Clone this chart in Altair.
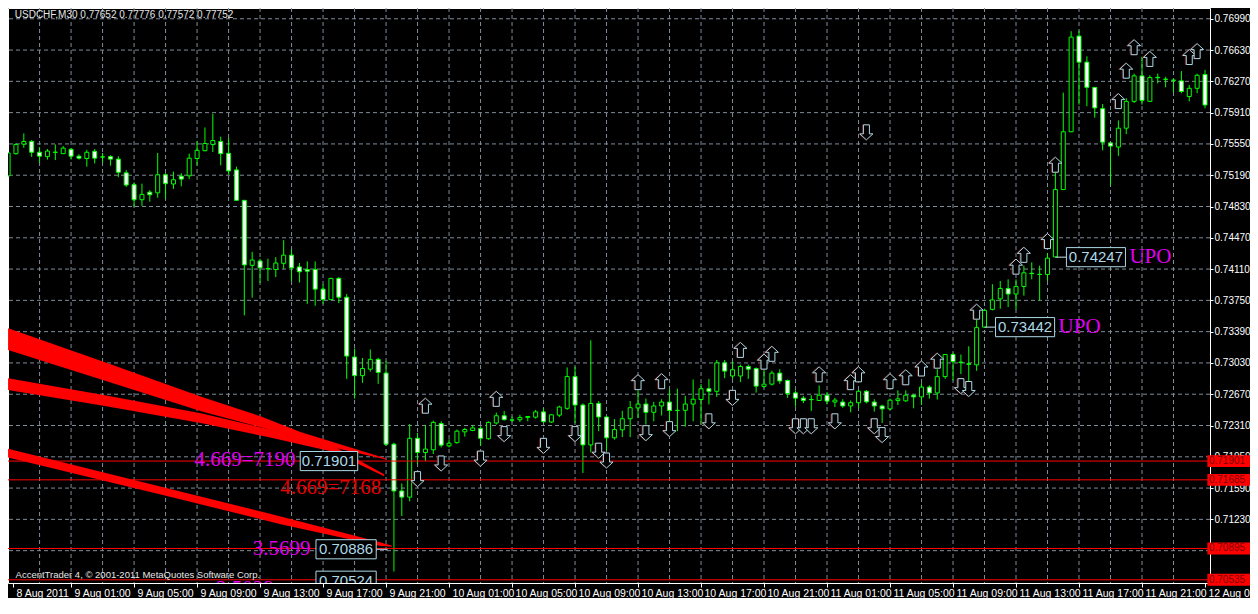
import altair as alt
import pandas as pd

# ---------------- candle data (USDCHF M30, bar 0 = 8 Aug 21:00) ----------------
opens = [0.75183, 0.75438, 0.75547, 0.75578, 0.75454, 0.75404, 0.75455, 0.75438, 0.75488, 0.75409,
         0.75382, 0.75465, 0.75401, 0.75404, 0.75375, 0.75217, 0.75082, 0.74908, 0.74995, 0.74987,
         0.75195, 0.75089, 0.75179, 0.75183, 0.75382, 0.75472, 0.75544, 0.75578, 0.75442, 0.75251,
         0.74901, 0.74153, 0.74203, 0.74115, 0.74105, 0.74176, 0.74270, 0.74135, 0.74105, 0.74105,
         0.73879, 0.73759, 0.74003, 0.73786, 0.73098, 0.72884, 0.72958, 0.73071, 0.72913, 0.72095,
         0.71557, 0.71486, 0.72163, 0.72000, 0.72031, 0.72332, 0.72076, 0.72113, 0.72237, 0.72253,
         0.72275, 0.72158, 0.72339, 0.72422, 0.72374, 0.72377, 0.72403, 0.72406, 0.72467, 0.72350,
         0.72429, 0.72508, 0.72873, 0.72546, 0.72087, 0.72564, 0.72408, 0.72169, 0.72260, 0.72388,
         0.72512, 0.72557, 0.72462, 0.72535, 0.72580, 0.72482, 0.72485, 0.72557, 0.72609, 0.72733,
         0.72704, 0.73031, 0.72880, 0.72880, 0.72989, 0.72966, 0.72760, 0.72786, 0.72913, 0.72828,
         0.72685, 0.72625, 0.72610, 0.72598, 0.72659, 0.72580, 0.72580, 0.72535, 0.72572, 0.72704,
         0.72580, 0.72535, 0.72501, 0.72598, 0.72594, 0.72659, 0.72639, 0.72752, 0.72685, 0.72873,
         0.73127, 0.73040, 0.73020, 0.73008, 0.73442, 0.73646, 0.73767, 0.73887, 0.73823, 0.73910,
         0.74062, 0.74050, 0.74048, 0.74250, 0.75025, 0.75690, 0.76791, 0.76491, 0.76201, 0.75956,
         0.75562, 0.75514, 0.75731, 0.76040, 0.76333, 0.76040, 0.76316, 0.76295, 0.76284, 0.76275,
         0.76096, 0.76190, 0.76348]
highs = [0.75450, 0.75559, 0.75671, 0.75596, 0.75514, 0.75491, 0.75544, 0.75525, 0.75502, 0.75431,
         0.75483, 0.75491, 0.75446, 0.75420, 0.75409, 0.75251, 0.75108, 0.75093, 0.75018, 0.75446,
         0.75213, 0.75232, 0.75213, 0.75438, 0.75581, 0.75739, 0.75897, 0.75634, 0.75618, 0.75288,
         0.74905, 0.74308, 0.74229, 0.74229, 0.74248, 0.74443, 0.74338, 0.74180, 0.74198, 0.74198,
         0.73936, 0.74010, 0.74018, 0.73823, 0.73195, 0.73087, 0.73184, 0.73090, 0.73053, 0.72113,
         0.71644, 0.72327, 0.72226, 0.72313, 0.72366, 0.72358, 0.72151, 0.72264, 0.72282, 0.72313,
         0.72301, 0.72358, 0.72459, 0.72478, 0.72414, 0.72433, 0.72418, 0.72490, 0.72508, 0.72440,
         0.72538, 0.72978, 0.72985, 0.72564, 0.73290, 0.72591, 0.72422, 0.72384, 0.72478, 0.72591,
         0.72715, 0.72620, 0.72583, 0.72613, 0.72733, 0.72733, 0.72651, 0.72839, 0.72789, 0.72846,
         0.73064, 0.73064, 0.73045, 0.73011, 0.73011, 0.72978, 0.72958, 0.72940, 0.72958, 0.72839,
         0.72715, 0.72651, 0.72659, 0.72771, 0.72696, 0.72628, 0.72613, 0.72598, 0.72722, 0.72718,
         0.72613, 0.72549, 0.72620, 0.72715, 0.72715, 0.72670, 0.72797, 0.72771, 0.72958, 0.73130,
         0.73147, 0.73127, 0.73222, 0.73541, 0.73654, 0.73936, 0.73973, 0.73992, 0.73992, 0.74150,
         0.74187, 0.74150, 0.74293, 0.75251, 0.76141, 0.76847, 0.76855, 0.76558, 0.76205, 0.76009,
         0.75570, 0.75821, 0.76077, 0.76359, 0.76554, 0.76340, 0.76359, 0.76322, 0.76302, 0.76389,
         0.76227, 0.76359, 0.76400]
lows = [0.75175, 0.75427, 0.75506, 0.75401, 0.75333, 0.75370, 0.75364, 0.75435, 0.75370, 0.75370,
        0.75288, 0.75325, 0.75333, 0.75299, 0.75168, 0.75055, 0.74826, 0.74837, 0.74886, 0.74931,
        0.74920, 0.75032, 0.75063, 0.75145, 0.75303, 0.75465, 0.75457, 0.75303, 0.75195, 0.74895,
        0.73578, 0.73781, 0.73950, 0.73973, 0.74018, 0.74113, 0.73973, 0.73955, 0.73710, 0.73688,
        0.73710, 0.73755, 0.73718, 0.72846, 0.72620, 0.72801, 0.72929, 0.72789, 0.72076, 0.70630,
        0.71268, 0.71437, 0.71870, 0.71899, 0.71982, 0.72057, 0.72057, 0.72102, 0.72181, 0.72245,
        0.72076, 0.72147, 0.72320, 0.72369, 0.72350, 0.72350, 0.72358, 0.72388, 0.72346, 0.72339,
        0.72406, 0.72490, 0.72339, 0.71764, 0.72000, 0.72245, 0.72020, 0.72147, 0.72177, 0.72177,
        0.72395, 0.72320, 0.72358, 0.72425, 0.72245, 0.72245, 0.72298, 0.72358, 0.72320, 0.72553,
        0.72639, 0.72854, 0.72846, 0.72809, 0.72846, 0.72688, 0.72744, 0.72771, 0.72789, 0.72628,
        0.72527, 0.72568, 0.72478, 0.72595, 0.72553, 0.72523, 0.72515, 0.72462, 0.72508, 0.72564,
        0.72470, 0.72339, 0.72490, 0.72546, 0.72583, 0.72508, 0.72546, 0.72620, 0.72609, 0.72846,
        0.72828, 0.72902, 0.72659, 0.72940, 0.73442, 0.73635, 0.73654, 0.73673, 0.73643, 0.73804,
        0.73992, 0.73747, 0.73973, 0.74247, 0.75020, 0.75685, 0.76002, 0.75984, 0.75852, 0.75476,
        0.75071, 0.75412, 0.75663, 0.76021, 0.76002, 0.76035, 0.76246, 0.76201, 0.76141, 0.76133,
        0.76040, 0.76133, 0.75960]
closes = [0.75446, 0.75544, 0.75578, 0.75454, 0.75409, 0.75468, 0.75453, 0.75502, 0.75409, 0.75386,
          0.75454, 0.75386, 0.75399, 0.75375, 0.75224, 0.75077, 0.74908, 0.74969, 0.74965, 0.75195,
          0.75093, 0.75138, 0.75145, 0.75386, 0.75476, 0.75555, 0.75589, 0.75438, 0.75240, 0.74901,
          0.74158, 0.74214, 0.74124, 0.74112, 0.74180, 0.74270, 0.74124, 0.74079, 0.74085, 0.73879,
          0.73759, 0.74003, 0.73786, 0.73109, 0.72884, 0.72966, 0.73071, 0.72921, 0.72095, 0.71557,
          0.71486, 0.72163, 0.72000, 0.72039, 0.72346, 0.72084, 0.72106, 0.72245, 0.72264, 0.72282,
          0.72163, 0.72346, 0.72422, 0.72377, 0.72372, 0.72403, 0.72414, 0.72467, 0.72354, 0.72433,
          0.72523, 0.72873, 0.72546, 0.72087, 0.72564, 0.72408, 0.72169, 0.72264, 0.72388, 0.72515,
          0.72557, 0.72462, 0.72535, 0.72580, 0.72482, 0.72485, 0.72557, 0.72613, 0.72733, 0.72704,
          0.73031, 0.72936, 0.72952, 0.72989, 0.72958, 0.72763, 0.72786, 0.72913, 0.72823, 0.72677,
          0.72625, 0.72598, 0.72608, 0.72659, 0.72591, 0.72602, 0.72535, 0.72572, 0.72704, 0.72583,
          0.72535, 0.72501, 0.72602, 0.72617, 0.72659, 0.72639, 0.72752, 0.72685, 0.72873, 0.73127,
          0.73045, 0.73034, 0.73015, 0.73436, 0.73635, 0.73755, 0.73887, 0.73823, 0.73910, 0.74067,
          0.74058, 0.74048, 0.74236, 0.75025, 0.75690, 0.76779, 0.76491, 0.76201, 0.75964, 0.75570,
          0.75525, 0.75731, 0.76040, 0.76333, 0.76051, 0.76314, 0.76312, 0.76293, 0.76282, 0.76153,
          0.76190, 0.76340, 0.75998]

# ---------------- axes ----------------
x_labels = ["8 Aug 2011", "9 Aug 01:00", "9 Aug 05:00", "9 Aug 09:00", "9 Aug 13:00",
            "9 Aug 17:00", "9 Aug 21:00", "10 Aug 01:00", "10 Aug 05:00", "10 Aug 09:00",
            "10 Aug 13:00", "10 Aug 17:00", "10 Aug 21:00", "11 Aug 01:00", "11 Aug 05:00",
            "11 Aug 09:00", "11 Aug 13:00", "11 Aug 17:00", "11 Aug 21:00", "12 Aug 01:00"]
x_label_bars = [0.625, 8, 16, 24, 32, 40, 48, 56, 64, 72, 80, 88, 96, 104, 112, 120, 128, 136, 144, 152]
y_levels = [0.70870, 0.71230, 0.71590, 0.71950, 0.72310, 0.72670, 0.73030, 0.73390, 0.73750,
            0.74110, 0.74470, 0.74830, 0.75190, 0.75550, 0.75910, 0.76270, 0.76630, 0.76990]
grid_bars = [4, 8, 12, 16, 20, 24, 28, 32, 36, 40, 44, 48, 52, 56, 60, 64, 68, 72, 76, 80,
             84, 88, 92, 96, 100, 104, 108, 112, 116, 120, 124, 128, 132, 136, 140, 144, 148]

# ---------------- arrows ----------------
up_bars = [53, 62, 80, 83, 93, 96, 97, 103, 107, 108, 112, 114, 116, 118, 123, 128, 129, 132,
           133, 141, 142, 143, 145, 150, 151]
up_prices = [0.72538, 0.72617, 0.72809, 0.72820, 0.73180, 0.73045, 0.73135, 0.72899, 0.72809,
             0.72899, 0.72820, 0.72865, 0.72966, 0.73056, 0.73620, 0.74138, 0.74274, 0.74432,
             0.75311, 0.76043, 0.76393, 0.76663, 0.76528, 0.76550, 0.76618]
down_bars = [52, 55, 60, 63, 68, 72, 75, 76, 81, 84, 89, 92, 100, 101, 102, 105, 109, 110, 111,
             121, 122]
down_prices = [0.71693, 0.71873, 0.71929, 0.72211, 0.72076, 0.72211, 0.72020, 0.71907, 0.72222,
               0.72268, 0.72358, 0.72628, 0.72301, 0.72301, 0.72301, 0.72358, 0.75683, 0.72301,
               0.72200, 0.72763, 0.72730]

# ---------------- red fan bands ----------------
band_id = [1] * 6 + [2] * 6 + [3] * 5
band_bar = [0, 12.125, 24.625, 32.125, 37.125, 48,
            0, 12.125, 24.625, 33, 41.25, 47.75,
            0, 22.125, 34.625, 47.125, 48.75]
band_top = [0.73428, 0.73045, 0.72639, 0.72414, 0.72234, 0.71929,
            0.72854, 0.72662, 0.72448, 0.72268, 0.72076, 0.71749,
            0.72042, 0.71546, 0.71264, 0.70971, 0.70926]
band_bottom = [0.73180, 0.72831, 0.72470, 0.72290, 0.72143, 0.71918,
               0.72718, 0.72538, 0.72335, 0.72177, 0.72008, 0.71726,
               0.71941, 0.71456, 0.71174, 0.70926, 0.70915]

# ---------------- horizontal levels & labels ----------------
level_prices = [0.71901, 0.71685, 0.70895, 0.70535]
level_labels = ["0.71901", "0.71685", "0.70895", "0.70535"]

ann_text = ["4.669=7190", "4.669=7168", "3.5699", "2.5029"]
ann_bar = [36.5, 47.4, 38.4, 33.75]
ann_price = [0.71918, 0.71591, 0.70892, 0.70430]
ann_color = ["#E000F0", "#E80000", "#E000F0", "#E000F0"]

upo_text = ["UPO", "UPO"]
upo_bar = [142.4, 133.4]
upo_price = [0.74247, 0.73442]

box_text = ["0.71901", "0.70886", "0.70524", "0.74247", "0.73442"]
box_bar0 = [37.1, 39.1, 39.1, 134.4, 125.4]
box_bar1 = [44.4, 46.75, 46.75, 141.9, 132.9]
box_price = [0.71901, 0.70886, 0.70524, 0.74247, 0.73442]

conn_bar0 = [133, 124, 46.75]
conn_bar1 = [134.4, 125.4, 48.2]
conn_price = [0.74247, 0.73442, 0.70886]

title_text = ["USDCHF,M30  0.77652 0.77776 0.77572 0.77752"]
title_bar = [0.85]
title_price = [0.77030]
copyright_text = ["AccentTrader 4, \u00a9 2001-2011 MetaQuotes Software Corp."]
copyright_bar = [0.95]
copyright_price = [0.70595]

# ---------------- build ----------------
df = pd.DataFrame({"bar": list(range(len(opens))), "open": opens, "high": highs,
                   "low": lows, "close": closes})
xs = alt.Scale(domain=[0.625, 152], nice=False, zero=False)
ys = alt.Scale(domain=[0.704979, 0.77114], nice=False, zero=False)
GREEN = "#00FF00"
LB = "#ADD8E6"
GRID = "#7F8C9A"

lbl_js = "[" + ",".join("'" + s + "'" for s in x_labels) + "]"

x_axis = alt.Axis(values=x_label_bars, labelExpr=lbl_js + "[round(datum.value / 8)]",
                  labelAlign="left", labelOffset=3, labelColor="white",
                  labelFont="Liberation Sans", labelFontSize=10.5, tickColor="white",
                  tickSize=4, labelPadding=1, domain=False, grid=False, title=None,
                  labelFlush=False, labelOverlap=False, labelBound=False)
y_axis = alt.Axis(orient="right", values=y_levels, format=".5f", labelColor="white",
                  labelFont="Liberation Sans", labelFontSize=10, tickColor="white",
                  tickSize=3, labelPadding=1, domain=False, grid=False, title=None,
                  labelFlush=False, labelOverlap=False)


def X(field):
    return alt.X(field, scale=xs, axis=x_axis, title=None)


def Y(field):
    return alt.Y(field, scale=ys, axis=y_axis, title=None)


grid_v = alt.Chart(pd.DataFrame({"g": grid_bars})).mark_rule(
    color=GRID, strokeDash=[4, 3], strokeWidth=1).encode(x=X("g:Q"))
grid_h = alt.Chart(pd.DataFrame({"g": y_levels})).mark_rule(
    color=GRID, strokeDash=[4, 3], strokeWidth=1, clip=True).encode(y=Y("g:Q"))

bands = alt.Chart(pd.DataFrame({"band": band_id, "bar": band_bar, "top": band_top,
                                "bottom": band_bottom})).mark_area(
    color="#FF0000", opacity=1, clip=True).encode(
    x=X("bar:Q"), y=Y("top:Q"), y2="bottom:Q", detail="band:N")

wicks = alt.Chart(df).mark_rule(color=GREEN, strokeWidth=1, clip=True).encode(
    x=X("bar:Q"), y=Y("low:Q"), y2="high:Q")

bodies = alt.Chart(df).mark_bar(size=4, stroke=GREEN, strokeWidth=1, clip=True).encode(
    x=X("bar:Q"), y=Y("open:Q"), y2="close:Q",
    fill=alt.condition("datum.close < datum.open", alt.value("white"), alt.value("black")))

red_lines = alt.Chart(pd.DataFrame({"p": level_prices})).mark_rule(
    color="#FF0000", strokeWidth=1).encode(y=Y("p:Q"))

conn = alt.Chart(pd.DataFrame({"a": conn_bar0, "b": conn_bar1, "p": conn_price})).mark_rule(
    color="#C8E4F0", strokeWidth=1, clip=True).encode(x=X("a:Q"), x2="b:Q", y=Y("p:Q"))

UP = "M0,-1L0.87,-0.2L0.4,-0.2L0.4,1L-0.4,1L-0.4,-0.2L-0.87,-0.2Z"
DOWN = "M0,1L0.87,0.2L0.4,0.2L0.4,-1L-0.4,-1L-0.4,0.2L-0.87,0.2Z"


def arrows(bars, prices, shape):
    d = pd.DataFrame({"bar": bars, "p": prices})
    shadow = alt.Chart(d).mark_point(
        shape=shape, size=225, filled=False, stroke="#6A1818", strokeWidth=1,
        opacity=1, xOffset=-1, clip=True).encode(x=X("bar:Q"), y=Y("p:Q"))
    main = alt.Chart(d).mark_point(
        shape=shape, size=225, filled=True, fill="black", stroke=LB, strokeWidth=1,
        opacity=1, clip=True).encode(x=X("bar:Q"), y=Y("p:Q"))
    return shadow, main


up_shadow, up_arrows = arrows(up_bars, up_prices, UP)
down_shadow, down_arrows = arrows(down_bars, down_prices, DOWN)

ann = alt.Chart(pd.DataFrame({"t": ann_text, "bar": ann_bar, "p": ann_price,
                              "c": ann_color})).mark_text(
    font="Liberation Serif", fontSize=21, align="right", baseline="middle", clip=True).encode(
    x=X("bar:Q"), y=Y("p:Q"), text="t:N", color=alt.Color("c:N", scale=None))

upo = alt.Chart(pd.DataFrame({"t": upo_text, "bar": upo_bar, "p": upo_price})).mark_text(
    font="Liberation Serif", fontSize=21, align="left", baseline="middle",
    color="#E000F0").encode(x=X("bar:Q"), y=Y("p:Q"), text="t:N")

box_df = pd.DataFrame({"t": box_text, "a": box_bar0, "b": box_bar1, "p": box_price})
box_rects = alt.Chart(box_df).transform_calculate(
    top="datum.p + 0.00110", bot="datum.p - 0.00110").mark_rect(
    fill="black", stroke=LB, strokeWidth=1, clip=True).encode(
    x=X("a:Q"), x2="b:Q", y=Y("top:Q"), y2="bot:Q")
box_texts = alt.Chart(box_df).transform_calculate(
    mid="(datum.a + datum.b) / 2").mark_text(
    font="Liberation Sans", fontSize=15, color=LB, align="center", baseline="middle",
    clip=True).encode(x=X("mid:Q"), y=Y("p:Q"), text="t:N")

side_df = pd.DataFrame({"t": level_labels, "p": level_prices})
side_rects = alt.Chart(side_df).transform_calculate(
    a="152.3", b="158", top="datum.p + 0.00068", bot="datum.p - 0.00068").mark_rect(
    fill="#FF0000").encode(x=X("a:Q"), x2="b:Q", y=Y("top:Q"), y2="bot:Q")
side_texts = alt.Chart(side_df).transform_calculate(a="152.5").mark_text(
    font="Liberation Sans", fontSize=10, color="#7A0000", align="left",
    baseline="middle").encode(x=X("a:Q"), y=Y("p:Q"), text="t:N")

title_layer = alt.Chart(pd.DataFrame({"t": title_text, "bar": title_bar,
                                      "p": title_price})).mark_text(
    font="Liberation Sans", fontSize=10, color="#E6E6E6", align="left",
    baseline="middle").encode(x=X("bar:Q"), y=Y("p:Q"), text="t:N")

copyright_layer = alt.Chart(pd.DataFrame({"t": copyright_text, "bar": copyright_bar,
                                          "p": copyright_price})).mark_text(
    font="Liberation Sans", fontSize=9.5, color="#E6E6E6", align="left",
    baseline="middle").encode(x=X("bar:Q"), y=Y("p:Q"), text="t:N")

chart = alt.layer(
    grid_v, grid_h, bands, wicks, bodies, red_lines, conn, up_shadow, up_arrows,
    down_shadow, down_arrows, ann, upo, box_rects, box_texts, side_rects, side_texts,
    title_layer, copyright_layer
).properties(
    width=1202, height=575,
    padding={"left": 0, "top": 0, "right": 40, "bottom": 15},
    autosize=alt.AutoSizeParams(type="none"),
).configure(background="black").configure_view(stroke="white", strokeWidth=1, fill="black")

chart.save("out.html", embed_options={"renderer": "svg", "actions": False})
